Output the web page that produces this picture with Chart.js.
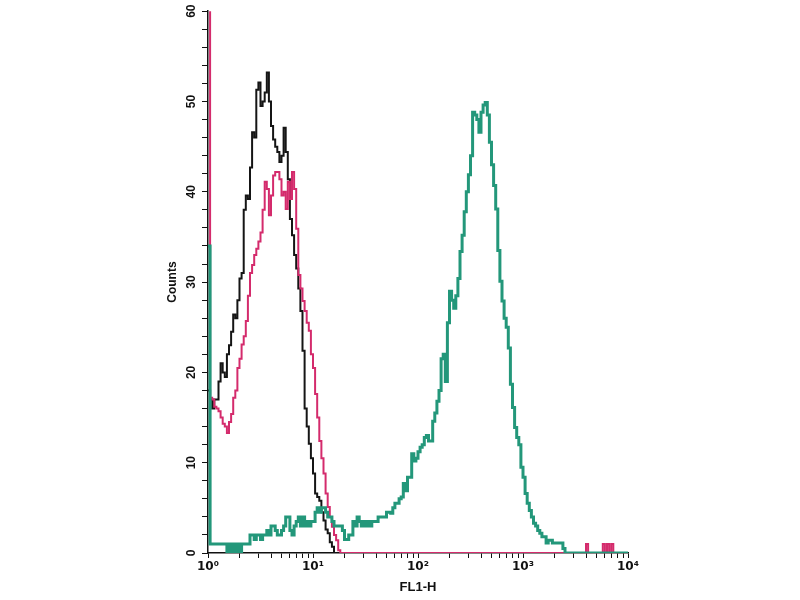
<!DOCTYPE html>
<html>
<head>
<meta charset="utf-8">
<script src="https://cdn.jsdelivr.net/npm/chart.js@4.4.1/dist/chart.umd.min.js"></script>
<style>
  html,body{margin:0;padding:0;background:#fff;}
  #wrap{width:800px;height:600px;}
</style>
</head>
<body>
<div id="wrap"><canvas id="histo" width="800" height="600"></canvas></div>
<script>
// FL1-H channel edges: one decade split in 50 log steps, repeated over 4 decades
const channelMantissa = [
  1, 1.047, 1.096, 1.148, 1.202, 1.259, 1.318, 1.380, 1.445, 1.514,
  1.585, 1.660, 1.738, 1.820, 1.905, 1.995, 2.089, 2.188, 2.291, 2.399,
  2.512, 2.630, 2.754, 2.884, 3.020, 3.162, 3.311, 3.467, 3.631, 3.802,
  3.981, 4.169, 4.365, 4.571, 4.786, 5.012, 5.248, 5.495, 5.754, 6.026,
  6.310, 6.607, 6.918, 7.244, 7.586, 7.943, 8.318, 8.710, 9.120, 9.550
];
const channelDecades = [1, 10, 100, 1000];
const channelTop = 10000;

// counts per channel (black = isotype / unstained)
const blackCounts = [
  18, 17, 16, 17, 17, 19, 21, 20, 19.5, 22,
  23, 24.5, 26.4, 26, 28, 30.4, 31, 38, 39.6, 39.2,
  42.7, 46.6, 46, 51.3, 52.1, 49.5, 50, 51, 53.2, 50,
  47.3, 45.8, 45, 44.4, 43.3, 44, 47.1, 44.4, 41.4, 37,
  35.2, 33, 31.5, 29.3, 26.8, 22.4, 16, 14, 12.1, 10.5,
  8.8, 6.6, 6.2, 5.8, 4.5, 3.6, 2.6, 2.2, 1.2, 0.7,
  0, 0
];

const magentaCounts = [
  62, 17.2, 17, 16.2, 16, 15.7, 15, 14.3, 14, 13.3,
  14.5, 15.4, 17.2, 18, 20.5, 21.5, 23.1, 24, 25.7, 28.5,
  31, 31.9, 33, 33.7, 34.5, 35.5, 38, 41.1, 40.3, 37.4,
  39.6, 41.8, 42.2, 42.2, 41.4, 39.6, 40, 38.1, 41.1, 39.2,
  42.2, 40.3, 35.9, 30.8, 29.3, 27.9, 26.8, 25.5, 24.6, 22,
  20.5, 17.6, 15, 12.4, 10.5, 8.8, 6.6, 5.1, 4, 2.9,
  2, 1.4, 0.3, 0, 0, 0, 0, 0, 0, 0,
  0, 0, 0, 0, 0, 0, 0, 0, 0, 0,
  0, 0, 0, 0, 0, 0, 0, 0, 0, 0,
  0, 0, 0, 0, 0, 0, 0, 0, 0, 0,
  0, 0, 0, 0, 0, 0, 0, 0, 0, 0,
  0, 0, 0, 0, 0, 0, 0, 0, 0, 0,
  0, 0, 0, 0, 0, 0, 0, 0, 0, 0,
  0, 0, 0, 0, 0, 0, 0, 0, 0, 0,
  0, 0, 0, 0, 0, 0, 0, 0, 0, 0,
  0, 0, 0, 0, 0, 0, 0, 0, 0, 0,
  0, 0, 0, 0, 0, 0, 0, 0, 0, 0,
  0, 0, 0, 0, 0, 0, 0, 0, 0, 0,
  1, 0, 0, 0, 0, 0, 0, 0, 1, 0,
  1, 0, 1, 0, 0, 0, 0, 0, 0, 0,
  0
];

const tealCounts = [
  34, 1, 1, 1, 1, 1, 1, 1, 1, 0,
  1, 0, 1, 0, 1, 0, 1, 1, 1, 1,
  2, 2, 1.5, 2, 2, 1.5, 2, 2, 2.5, 2,
  3, 3, 2.5, 2, 2, 2.5, 3, 4, 4, 2.5,
  2, 3, 3.5, 4, 3, 4, 3, 3.5, 3, 3.5,
  3.5, 4.5, 5, 4.5, 5, 5, 4.5, 4, 4, 3.5,
  3, 3, 3, 3, 2.5, 1.5, 1.5, 2, 2, 3.5,
  3, 4, 3.5, 3, 3.5, 3, 3.5, 3, 3.5, 3.5,
  3.5, 4, 4, 4, 4, 4.5, 4.5, 4.4, 5, 5.5,
  5.5, 6, 6.2, 7.7, 6.9, 8.4, 8.4, 11, 10.2, 10.5,
  11.2, 11.7, 12, 12.8, 13, 12.4, 12.4, 14.6, 15.5, 16.8,
  18, 21.5, 22, 19, 25.5, 29, 28, 27.1, 28.5, 30.4,
  33.4, 35.2, 37.8, 40, 41.9, 44, 48.8, 48.5, 48, 46.6,
  48.8, 49.6, 49.9, 48.5, 45.5, 43, 40.7, 38.1, 33.5, 30.1,
  27.9, 26, 25, 22.7, 18.7, 16.1, 13.9, 12.8, 12, 9.5,
  8.4, 6.6, 5.5, 4.7, 4, 3.3, 3, 2.5, 2.2, 1.8,
  1.8, 1.1, 1.4, 1.4, 1.1, 1.1, 1.1, 1.1, 1.1, 0.5,
  0, 0, 0, 0, 0, 0, 0, 0, 0, 0,
  0, 0, 0, 0, 0, 0, 0, 0, 0, 0,
  0, 0, 0, 0, 0, 0, 0, 0, 0, 0,
  0
];

// axis ticks
const xTickMantissa = [1, 2, 3, 4, 5, 6, 7, 8, 9];
const xLabelValues = [1, 10, 100, 1000, 10000];
const xLabels = ['10\u2070', '10\u00b9', '10\u00b2', '10\u00b3', '10\u2074'];
const yMax = 60;
const yStep = 2;
const yLabelEvery = 10;

const channels = channelDecades.flatMap(d => channelMantissa.map(m => m * d)).concat([channelTop]);
const xTicks = channelDecades.flatMap(d => xTickMantissa.map(m => m * d)).concat([channelTop]);

function toPoints(counts){
  return counts.map((y, i) => ({ x: channels[i], y }));
}

function series(label, counts, color, width){
  return {
    label, data: toPoints(counts),
    borderColor: color, borderWidth: width,
    pointRadius: 0, stepped: 'before', tension: 0, fill: false
  };
}

const font = { family: '"Liberation Sans", "DejaVu Sans", Arial, sans-serif', size: 12, weight: 'bold' };
// DejaVu has every superscript digit, so the exponents match
const xFont = { family: '"DejaVu Sans", sans-serif', size: 12, weight: 'bold' };

new Chart(document.getElementById('histo'), {
  type: 'line',
  data: {
    // first dataset is painted last (on top)
    datasets: [
      series('stained', tealCounts, '#23977a', 3),
      series('control', magentaCounts, '#d42b6c', 2),
      series('isotype', blackCounts, '#151515', 2)
    ]
  },
  options: {
    responsive: false,
    animation: false,
    devicePixelRatio: 1,
    layout: { padding: { left: 160, right: 172, top: 8, bottom: 0 } },
    plugins: { legend: { display: false }, tooltip: { enabled: false } },
    scales: {
      x: {
        type: 'logarithmic',
        min: 1, max: channelTop,
        afterBuildTicks: s => { s.ticks = xTicks.map(v => ({ value: v })); },
        afterFit: s => { s.height = 47; },
        ticks: {
          autoSkip: false, maxRotation: 0, minRotation: 0, padding: 2,
          color: '#111', font: xFont,
          callback: v => { const i = xLabelValues.indexOf(v); return i >= 0 ? xLabels[i] : ''; }
        },
        grid: { drawOnChartArea: false, drawTicks: true, tickLength: 5, color: '#111', lineWidth: 1 },
        border: { display: true, color: '#111', width: 1.5 },
        title: { display: true, text: 'FL1-H', color: '#111', font: { ...font, size: 13 }, padding: { top: 0, bottom: 5 } }
      },
      y: {
        min: 0, max: yMax,
        afterFit: s => { s.width = 48; },
        ticks: {
          stepSize: yStep, autoSkip: false, minRotation: 90, maxRotation: 90,
          crossAlign: 'center', padding: 4, color: '#111', font,
          callback: v => (v % yLabelEvery === 0 ? String(v) : '')
        },
        grid: { drawOnChartArea: false, drawTicks: true, tickLength: 6, color: '#111', lineWidth: 1 },
        border: { display: true, color: '#111', width: 1.5 },
        title: { display: true, text: 'Counts', color: '#111', font, padding: { top: 5, bottom: 0 } }
      }
    }
  }
});
</script>
</body>
</html>
